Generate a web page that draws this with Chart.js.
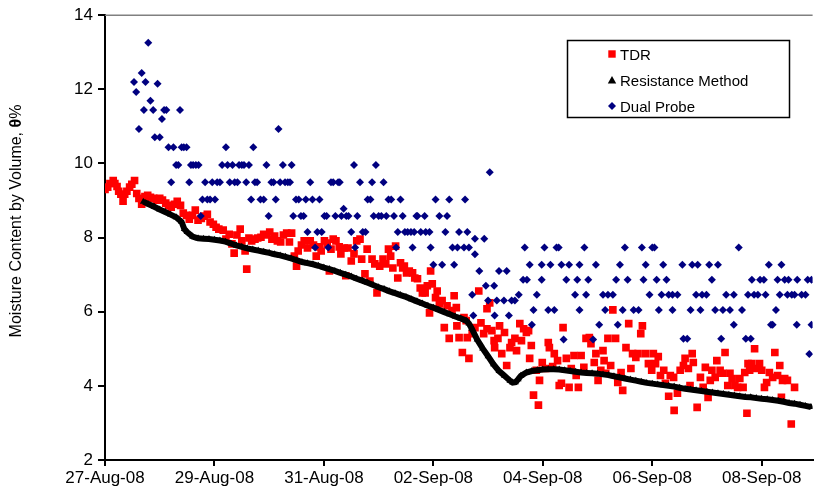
<!DOCTYPE html>
<html>
<head>
<meta charset="utf-8">
<script src="https://cdn.jsdelivr.net/npm/chart.js@4.4.0/dist/chart.umd.min.js"></script>
<style>
  html, body { margin: 0; padding: 0; background: #fff; }
  #wrap { position: relative; width: 818px; height: 496px; }
</style>
</head>
<body>
<div id="wrap"><canvas id="moistureChart"></canvas></div>
<script>
// x = days since 27-Aug-08 00:00, y = moisture content (%)
const seriesNames = ['TDR', 'Resistance Method', 'Dual Probe'];
const xTickDays = [0, 2, 4, 6, 8, 10, 12];
const xTickLabels = ['27-Aug-08', '29-Aug-08', '31-Aug-08', '02-Sep-08', '04-Sep-08', '06-Sep-08', '08-Sep-08'];
const yTicks = [2, 4, 6, 8, 10, 12, 14];

const tdr = [
  [0.00,9.30],[0.05,9.36],[0.09,9.46],[0.15,9.54],[0.18,9.46],[0.22,9.38],[0.25,9.25],[0.29,9.17],[0.33,8.98],[0.36,9.17],
  [0.40,9.25],[0.45,9.36],[0.49,9.44],[0.54,9.54],[0.58,9.19],[0.62,9.06],[0.67,8.90],[0.73,9.11],[0.78,9.14],[0.83,9.09],
  [0.89,9.06],[0.94,9.01],[1.00,9.06],[1.05,9.01],[1.11,8.93],[1.16,8.87],[1.21,8.82],[1.27,8.90],[1.32,8.98],[1.38,8.87],
  [1.43,8.66],[1.49,8.60],[1.54,8.50],[1.60,8.60],[1.65,8.74],[1.70,8.47],[1.76,8.52],[1.81,8.58],[1.87,8.63],[1.92,8.42],
  [1.98,8.36],[2.03,8.28],[2.08,8.23],[2.16,8.20],[2.21,7.96],[2.27,8.09],[2.32,7.83],[2.36,7.58],[2.41,8.07],[2.47,8.23],
  [2.50,7.91],[2.56,7.64],[2.59,7.15],[2.63,7.99],[2.68,7.91],[2.74,7.96],[2.79,7.99],[2.85,8.01],[2.90,8.09],[2.95,8.07],
  [3.01,8.15],[3.05,7.96],[3.10,8.04],[3.15,7.91],[3.21,7.88],[3.26,8.07],[3.32,8.12],[3.37,7.88],[3.41,8.12],[3.46,7.50],
  [3.50,7.23],[3.53,7.64],[3.59,7.80],[3.64,7.91],[3.70,7.72],[3.75,7.91],[3.81,7.80],[3.86,7.50],[3.92,7.75],[3.95,7.64],
  [4.01,7.91],[4.06,7.85],[4.10,7.10],[4.13,7.69],[4.17,7.96],[4.22,7.91],[4.28,7.75],[4.31,7.56],[4.37,7.72],[4.40,6.97],
  [4.44,7.72],[4.50,7.37],[4.55,7.56],[4.60,7.91],[4.66,7.96],[4.69,7.42],[4.75,7.02],[4.79,7.69],[4.84,6.83],[4.88,7.42],
  [4.93,7.29],[4.97,6.51],[5.02,7.23],[5.08,7.42],[5.13,7.29],[5.18,7.69],[5.22,7.50],[5.26,7.18],[5.31,7.77],[5.35,6.91],
  [5.40,7.32],[5.44,7.18],[5.47,7.23],[5.51,7.05],[5.56,7.10],[5.62,7.05],[5.66,6.91],[5.71,6.89],[5.76,6.64],[5.80,6.51],
  [5.85,6.51],[5.89,6.70],[5.93,5.97],[5.95,7.10],[5.98,6.75],[6.04,6.38],[6.07,6.56],[6.11,6.21],[6.16,6.30],[6.20,5.57],
  [6.25,6.16],[6.29,5.28],[6.34,6.03],[6.38,6.43],[6.42,6.11],[6.43,5.62],[6.47,5.30],[6.53,4.90],[6.56,5.84],[6.60,5.76],
  [6.62,5.30],[6.65,4.74],[6.71,5.41],[6.76,5.57],[6.83,6.56],[6.87,5.70],[6.92,5.41],[6.98,6.08],[6.98,5.54],[7.03,6.24],
  [7.07,5.49],[7.11,5.22],[7.12,5.03],[7.18,5.28],[7.21,5.62],[7.25,4.87],[7.30,5.44],[7.34,4.55],[7.40,5.03],[7.43,5.17],
  [7.49,5.28],[7.52,4.95],[7.58,5.68],[7.61,5.22],[7.65,5.54],[7.70,5.44],[7.74,5.49],[7.76,4.74],[7.79,5.09],[7.83,3.75],
  [7.88,4.42],[7.92,3.48],[7.94,4.15],[7.99,4.63],[8.05,4.47],[8.10,5.17],[8.12,5.03],[8.18,4.52],[8.21,4.87],[8.27,4.68],
  [8.30,4.01],[8.34,4.07],[8.37,5.57],[8.43,4.74],[8.48,3.96],[8.52,4.47],[8.57,4.82],[8.61,4.28],[8.65,3.96],[8.70,4.82],
  [8.75,4.50],[8.79,5.28],[8.85,5.30],[8.88,5.14],[8.94,4.63],[8.97,4.87],[9.01,4.15],[9.06,4.42],[9.10,4.95],[9.12,4.68],
  [9.15,4.34],[9.19,5.28],[9.24,4.55],[9.28,6.05],[9.33,5.28],[9.37,4.09],[9.43,4.36],[9.46,3.88],[9.52,5.03],[9.57,5.68],
  [9.61,4.47],[9.64,4.87],[9.70,4.77],[9.74,4.87],[9.79,5.41],[9.82,5.62],[9.88,4.87],[9.93,4.60],[9.99,4.42],[10.02,4.87],
  [10.06,4.60],[10.11,4.79],[10.15,4.28],[10.21,4.42],[10.24,4.07],[10.30,3.72],[10.33,4.28],[10.39,4.23],[10.40,3.34],[10.46,3.80],
  [10.51,4.42],[10.57,4.55],[10.60,4.74],[10.66,4.47],[10.69,4.01],[10.73,4.87],[10.75,4.63],[10.82,3.42],[10.88,4.23],[10.93,3.96],
  [10.97,4.50],[11.02,3.69],[11.06,4.15],[11.09,4.42],[11.15,4.23],[11.18,4.68],[11.24,4.42],[11.29,4.34],[11.33,4.90],[11.38,4.01],
  [11.42,4.34],[11.46,4.20],[11.51,4.01],[11.56,3.96],[11.60,4.20],[11.66,3.96],[11.69,4.36],[11.73,3.26],[11.75,4.60],[11.78,4.42],
  [11.82,4.60],[11.87,5.00],[11.91,4.47],[11.96,4.60],[12.00,4.42],[12.05,3.96],[12.09,4.09],[12.14,4.36],[12.20,4.23],[12.24,4.90],
  [12.29,4.28],[12.33,4.55],[12.36,3.69],[12.38,4.15],[12.42,4.20],[12.47,4.15],[12.54,2.97],[12.60,3.96]
];

const resistance = [
  [0.70,8.97],[0.80,8.90],[0.90,8.83],[1.00,8.76],[1.10,8.69],[1.20,8.62],[1.30,8.55],[1.40,8.42],[1.45,8.23],[1.50,8.15],
  [1.60,8.03],[1.70,7.98],[1.80,7.97],[1.90,7.96],[2.00,7.94],[2.10,7.92],[2.20,7.89],[2.30,7.84],[2.40,7.79],[2.50,7.75],
  [2.60,7.71],[2.70,7.68],[2.80,7.65],[2.90,7.62],[3.00,7.59],[3.10,7.55],[3.20,7.52],[3.30,7.48],[3.40,7.44],[3.50,7.39],
  [3.60,7.34],[3.70,7.31],[3.80,7.28],[3.90,7.24],[4.00,7.19],[4.10,7.15],[4.20,7.10],[4.30,7.05],[4.40,7.00],[4.50,6.95],
  [4.60,6.89],[4.70,6.84],[4.80,6.78],[4.90,6.72],[5.00,6.66],[5.10,6.61],[5.20,6.55],[5.30,6.50],[5.40,6.45],[5.50,6.40],
  [5.60,6.34],[5.70,6.28],[5.80,6.22],[5.90,6.16],[6.00,6.11],[6.10,6.05],[6.20,5.99],[6.30,5.93],[6.40,5.87],[6.50,5.82],
  [6.60,5.76],[6.65,5.68],[6.70,5.55],[6.80,5.25],[6.90,5.01],[7.00,4.80],[7.10,4.58],[7.20,4.40],[7.30,4.27],[7.40,4.14],
  [7.45,4.09],[7.50,4.10],[7.55,4.18],[7.60,4.27],[7.70,4.36],[7.80,4.40],[7.90,4.42],[8.00,4.44],[8.10,4.45],[8.20,4.45],
  [8.30,4.44],[8.40,4.42],[8.50,4.40],[8.60,4.38],[8.70,4.36],[8.80,4.35],[8.90,4.34],[9.00,4.33],[9.10,4.31],[9.20,4.29],
  [9.30,4.26],[9.40,4.23],[9.50,4.20],[9.60,4.17],[9.70,4.14],[9.80,4.11],[9.90,4.08],[10.00,4.06],[10.10,4.04],[10.20,4.02],
  [10.30,4.00],[10.40,3.98],[10.50,3.95],[10.60,3.92],[10.70,3.90],[10.80,3.88],[10.90,3.86],[11.00,3.84],[11.10,3.82],[11.20,3.80],
  [11.30,3.78],[11.40,3.76],[11.50,3.74],[11.60,3.72],[11.70,3.70],[11.80,3.69],[11.90,3.67],[12.00,3.65],[12.10,3.64],[12.20,3.62],
  [12.30,3.60],[12.40,3.57],[12.50,3.54],[12.60,3.52],[12.70,3.49],[12.80,3.46],[12.90,3.43]
];

const dualProbe = [
  [0.53,12.20],[0.57,11.93],[0.62,10.93],[0.67,12.44],[0.71,11.44],[0.74,12.20],[0.79,13.26],[0.83,11.69],[0.88,11.44],[0.91,10.71],
  [0.96,12.15],[1.00,10.71],[1.04,11.20],[1.08,11.44],[1.12,11.44],[1.16,10.44],[1.21,9.49],[1.25,10.44],[1.30,9.96],[1.34,9.96],
  [1.37,11.44],[1.40,10.44],[1.44,10.44],[1.49,10.44],[1.54,9.49],[1.57,9.96],[1.61,9.96],[1.66,9.96],[1.71,9.96],[1.75,8.58],
  [1.78,9.03],[1.83,9.49],[1.87,9.03],[1.92,9.03],[1.96,9.49],[2.01,9.03],[2.05,9.49],[2.10,9.49],[2.14,9.96],[2.21,10.44],
  [2.24,9.96],[2.28,9.49],[2.33,9.96],[2.37,9.49],[2.42,9.49],[2.45,9.96],[2.50,9.96],[2.54,9.96],[2.58,9.49],[2.63,9.96],
  [2.67,9.03],[2.71,10.44],[2.74,9.49],[2.78,9.49],[2.84,9.03],[2.90,9.03],[2.95,9.96],[2.99,8.58],[3.04,9.49],[3.08,9.49],
  [3.12,9.03],[3.17,10.93],[3.20,9.49],[3.25,9.96],[3.29,9.49],[3.34,9.49],[3.38,9.49],[3.41,9.96],[3.44,8.58],[3.49,9.03],
  [3.54,9.03],[3.58,8.58],[3.63,8.58],[3.67,9.03],[3.70,8.15],[3.75,9.49],[3.79,9.03],[3.84,7.73],[3.88,8.15],[3.92,9.03],
  [3.96,8.15],[4.01,8.58],[4.05,8.58],[4.08,7.73],[4.13,9.49],[4.17,9.49],[4.21,8.58],[4.26,9.49],[4.29,9.49],[4.32,8.58],
  [4.36,8.78],[4.41,8.58],[4.45,8.58],[4.50,8.15],[4.55,9.96],[4.57,7.73],[4.61,8.58],[4.66,9.49],[4.71,8.15],[4.76,8.15],
  [4.80,9.03],[4.85,9.03],[4.88,9.49],[4.91,8.58],[4.95,9.96],[5.00,8.58],[5.05,8.58],[5.09,9.49],[5.14,8.58],[5.18,9.03],
  [5.23,9.03],[5.28,8.58],[5.32,7.73],[5.35,8.15],[5.40,9.03],[5.44,8.58],[5.48,8.15],[5.53,8.15],[5.59,8.15],[5.62,7.73],
  [5.65,8.15],[5.69,8.58],[5.71,8.58],[5.77,8.15],[5.84,8.58],[5.86,8.15],[5.93,8.15],[5.95,7.73],[6.00,7.27],[6.04,9.03],
  [6.11,8.58],[6.16,7.27],[6.22,8.15],[6.25,8.58],[6.29,9.03],[6.35,7.73],[6.38,7.27],[6.44,7.73],[6.47,8.15],[6.56,7.73],
  [6.58,9.03],[6.62,8.15],[6.65,7.73],[6.71,6.46],[6.73,5.90],[6.76,7.97],[6.76,7.55],[6.84,7.10],[6.93,7.97],[6.96,6.70],
  [7.00,6.30],[7.03,9.76],[7.11,6.70],[7.12,5.90],[7.16,6.30],[7.20,7.10],[7.29,6.30],[7.34,7.10],[7.38,5.90],[7.43,6.30],
  [7.49,6.30],[7.56,6.46],[7.64,6.86],[7.67,7.73],[7.71,6.86],[7.76,7.27],[7.80,5.65],[7.83,6.05],[7.89,6.46],[7.98,7.27],
  [7.98,6.86],[8.03,7.73],[8.10,6.05],[8.14,7.27],[8.21,6.05],[8.25,7.73],[8.29,7.73],[8.34,7.27],[8.38,5.25],[8.43,6.86],
  [8.48,7.27],[8.59,6.46],[8.63,6.86],[8.67,7.27],[8.67,6.05],[8.76,7.73],[8.79,6.46],[8.83,6.86],[8.92,5.25],[8.97,7.27],
  [9.03,5.65],[9.10,6.46],[9.14,6.05],[9.19,6.46],[9.28,6.46],[9.34,6.86],[9.37,5.65],[9.41,7.27],[9.46,6.05],[9.50,7.73],
  [9.55,6.86],[9.66,6.05],[9.75,6.05],[9.81,7.73],[9.84,6.86],[9.88,7.27],[9.95,6.46],[10.00,7.73],[10.04,7.73],[10.08,6.86],
  [10.12,6.05],[10.17,6.46],[10.20,7.27],[10.26,6.86],[10.30,6.46],[10.37,6.05],[10.37,6.46],[10.46,6.46],[10.55,7.27],[10.57,5.27],
  [10.64,5.27],[10.70,6.05],[10.73,7.27],[10.80,6.46],[10.83,7.27],[10.88,6.05],[10.91,6.46],[10.99,6.46],[11.04,7.27],[11.09,6.86],
  [11.15,6.05],[11.20,7.27],[11.26,5.27],[11.29,6.05],[11.35,6.46],[11.42,6.05],[11.49,5.65],[11.49,6.46],[11.58,7.73],[11.64,6.05],
  [11.71,5.27],[11.75,6.46],[11.80,5.27],[11.82,6.86],[11.86,6.46],[11.93,6.46],[11.97,6.86],[12.04,6.86],[12.07,6.46],[12.13,7.27],
  [12.17,5.65],[12.20,5.65],[12.26,6.05],[12.29,6.86],[12.33,6.46],[12.36,7.27],[12.42,6.86],[12.47,6.46],[12.49,6.86],[12.55,6.46],
  [12.60,6.46],[12.64,5.65],[12.65,6.86],[12.73,6.46],[12.80,6.46],[12.84,6.86],[12.87,4.86],[12.91,5.65],[12.91,6.86]
];

const toPoints = (rows) => rows.map(([x, y]) => ({ x, y }));

Chart.defaults.font.family = '"Liberation Sans", Arial, sans-serif';
Chart.defaults.color = '#000';

// frame line, boxed legend and y title with bold theta
const decorPlugin = {
  id: 'decor',
  afterDraw(chart) {
    const { ctx, chartArea } = chart;
    ctx.save();

    ctx.strokeStyle = '#808080';
    ctx.lineWidth = 1.5;
    ctx.beginPath();
    ctx.moveTo(chartArea.left, chartArea.top);
    ctx.lineTo(chartArea.right, chartArea.top);
    ctx.stroke();

    // legend
    ctx.strokeStyle = '#000';
    ctx.lineWidth = 1.5;
    ctx.strokeRect(567.5, 40.5, 222, 77);
    const mx = 612;
    const rows = [54, 80, 106];
    ctx.fillStyle = '#FF0000';
    ctx.fillRect(mx - 3.7, rows[0] - 3.7, 7.4, 7.4);
    ctx.fillStyle = '#000';
    ctx.beginPath();
    ctx.moveTo(mx, rows[1] - 4);
    ctx.lineTo(mx + 4.2, rows[1] + 3.5);
    ctx.lineTo(mx - 4.2, rows[1] + 3.5);
    ctx.closePath();
    ctx.fill();
    ctx.fillStyle = '#000080';
    ctx.beginPath();
    ctx.moveTo(mx, rows[2] - 4);
    ctx.lineTo(mx + 4, rows[2]);
    ctx.lineTo(mx, rows[2] + 4);
    ctx.lineTo(mx - 4, rows[2]);
    ctx.closePath();
    ctx.fill();

    ctx.fillStyle = '#000';
    ctx.font = '15px "Liberation Sans", Arial, sans-serif';
    ctx.textBaseline = 'alphabetic';
    ctx.textAlign = 'left';
    seriesNames.forEach((name, i) => ctx.fillText(name, 620, rows[i] + 5.5));

    // y axis title
    const partA = 'Moisture Content by Volume, ';
    const partB = '\u03B8';
    const partC = '%';
    const fN = '16px "Liberation Sans", Arial, sans-serif';
    const fB = 'bold 16px "Liberation Sans", Arial, sans-serif';
    ctx.font = fN; const wA = ctx.measureText(partA).width; const wC = ctx.measureText(partC).width;
    ctx.font = fB; const wB = ctx.measureText(partB).width;
    const total = wA + wB + wC;
    ctx.translate(17, 221);
    ctx.rotate(-Math.PI / 2);
    ctx.textBaseline = 'middle';
    let px = -total / 2;
    ctx.font = fN; ctx.fillText(partA, px, 0); px += wA;
    ctx.font = fB; ctx.fillText(partB, px, 0); px += wB;
    ctx.font = fN; ctx.fillText(partC, px, 0);

    ctx.restore();
  }
};

new Chart(document.getElementById('moistureChart'), {
  type: 'scatter',
  data: {
    datasets: [
      {
        label: seriesNames[0],
        data: toPoints(tdr),
        pointStyle: 'rect',
        pointRadius: 5.4,
        backgroundColor: '#FF0000',
        borderColor: '#FF0000',
        borderWidth: 0,
        order: 3
      },
      {
        label: seriesNames[1],
        data: toPoints(resistance),
        showLine: true,
        borderColor: '#000',
        borderWidth: 6,
        pointStyle: 'triangle',
        pointRadius: 4,
        backgroundColor: '#000',
        pointBorderWidth: 0,
        order: 2
      },
      {
        label: seriesNames[2],
        data: toPoints(dualProbe),
        pointStyle: 'rectRot',
        pointRadius: 4,
        backgroundColor: '#000080',
        borderColor: '#000080',
        borderWidth: 0,
        order: 1
      }
    ]
  },
  options: {
    responsive: true,
    maintainAspectRatio: false,
    animation: false,
    layout: { padding: { top: 13, right: 0, left: 0, bottom: 0 } },
    plugins: { legend: { display: false }, tooltip: { enabled: false } },
    scales: {
      x: {
        type: 'linear',
        min: 0,
        max: 12.93,
        afterBuildTicks: (s) => { s.ticks = xTickDays.map((v) => ({ value: v })); },
        afterFit: (s) => { s.height = 36; },
        border: { color: '#000', width: 2 },
        grid: { drawOnChartArea: false, drawTicks: true, tickLength: 6, color: '#000', lineWidth: 2 },
        ticks: {
          padding: 2,
          maxRotation: 0,
          autoSkip: false,
          font: { size: 17 },
          callback: (v) => xTickLabels[xTickDays.indexOf(v)]
        }
      },
      y: {
        min: 2,
        max: 14,
        afterBuildTicks: (s) => { s.ticks = yTicks.map((v) => ({ value: v })); },
        afterFit: (s) => { s.width = 105; },
        border: { color: '#000', width: 2 },
        grid: { drawOnChartArea: false, drawTicks: true, tickLength: 7, color: '#000', lineWidth: 2 },
        ticks: { padding: 5, font: { size: 17 } }
      }
    }
  },
  plugins: [decorPlugin]
});
</script>
</body>
</html>
